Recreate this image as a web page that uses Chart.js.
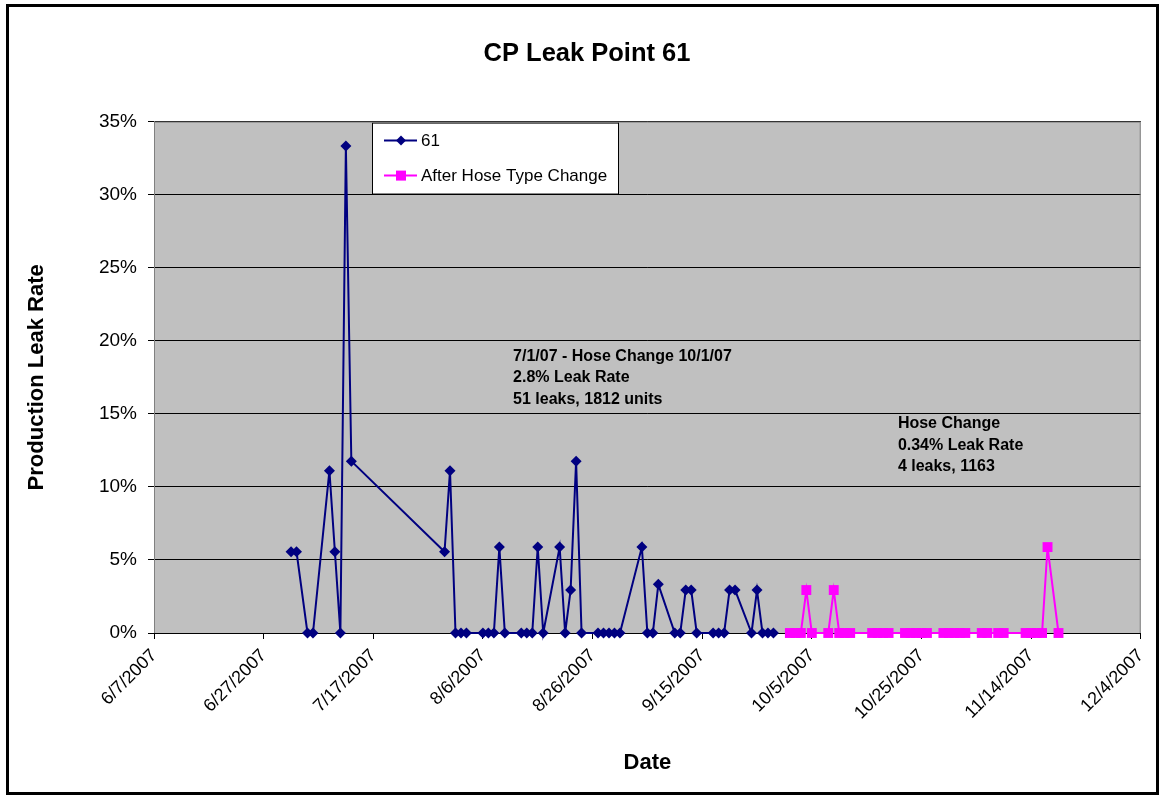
<!DOCTYPE html>
<html>
<head>
<meta charset="utf-8">
<title>CP Leak Point 61</title>
<script src="https://cdn.jsdelivr.net/npm/chart.js@4.4.1/dist/chart.umd.min.js"></script>
<style>
  html, body { margin: 0; padding: 0; background: #fff; }
  canvas { display: block; }
</style>
</head>
<body>
<canvas id="leak-chart" width="1162" height="795"></canvas>
<script>
// Values (rates in percent)
const startDate = '6/7/2007';
const axisDays = 180;
const tickStepDays = 20;
const rateMax = 35;
const rateStep = 5;

const point61Dates = ['7/2/2007', '7/3/2007', '7/5/2007', '7/6/2007', '7/9/2007', '7/10/2007', '7/11/2007', '7/12/2007', '7/13/2007',
    '7/30/2007', '7/31/2007', '8/1/2007', '8/2/2007', '8/3/2007',
    '8/6/2007', '8/7/2007', '8/8/2007', '8/9/2007', '8/10/2007',
    '8/13/2007', '8/14/2007', '8/15/2007', '8/16/2007', '8/17/2007',
    '8/20/2007', '8/21/2007', '8/22/2007', '8/23/2007', '8/24/2007',
    '8/27/2007', '8/28/2007', '8/29/2007', '8/30/2007', '8/31/2007',
    '9/4/2007', '9/5/2007', '9/6/2007', '9/7/2007',
    '9/10/2007', '9/11/2007', '9/12/2007', '9/13/2007', '9/14/2007',
    '9/17/2007', '9/18/2007', '9/19/2007', '9/20/2007', '9/21/2007',
    '9/24/2007', '9/25/2007', '9/26/2007', '9/27/2007', '9/28/2007'];
const point61Rates = [5.56, 5.56, 0, 0, 11.11, 5.56, 0, 33.33, 11.76,
    5.56, 11.11, 0, 0, 0,
    0, 0, 0, 5.88, 0,
    0, 0, 0, 5.88, 0,
    5.88, 0, 2.94, 11.76, 0,
    0, 0, 0, 0, 0,
    5.88, 0, 0, 3.33,
    0, 0, 2.94, 2.94, 0,
    0, 0, 0, 2.94, 2.94,
    0, 2.94, 0, 0, 0];

const afterChangeDates = ['10/1/2007', '10/2/2007', '10/3/2007', '10/4/2007', '10/5/2007',
    '10/8/2007', '10/9/2007', '10/10/2007', '10/11/2007', '10/12/2007',
    '10/16/2007', '10/17/2007', '10/18/2007', '10/19/2007',
    '10/22/2007', '10/23/2007', '10/24/2007', '10/25/2007', '10/26/2007',
    '10/29/2007', '10/30/2007', '10/31/2007', '11/1/2007', '11/2/2007',
    '11/5/2007', '11/6/2007', '11/8/2007', '11/9/2007',
    '11/13/2007', '11/14/2007', '11/15/2007', '11/16/2007', '11/17/2007', '11/19/2007'];
const afterChangeRates = [0, 0, 0, 2.94, 0,
    0, 2.94, 0, 0, 0,
    0, 0, 0, 0,
    0, 0, 0, 0, 0,
    0, 0, 0, 0, 0,
    0, 0, 0, 0,
    0, 0, 0, 0, 5.88, 0];

const noteBeforeLines = ['7/1/07 - Hose Change 10/1/07', '2.8% Leak Rate', '51 leaks, 1812 units'];
const noteAfterLines = ['Hose Change', '0.34% Leak Rate', '4 leaks, 1163'];

// where the notes sit, in axis units (day offset, rate)
const noteBeforeAnchor = { day: 65.5, rate: 18.95 };
const noteAfterAnchor = { day: 135.7, rate: 14.3 };

const FONT = 'Arial, "Liberation Sans", sans-serif';
const DAY_MS = 86400000;

function parseDate(str) {
    const [m, d, y] = str.split('/').map(Number);
    return Date.UTC(y, m - 1, d);
}

const startMs = parseDate(startDate);

function dayOffset(str) {
    return (parseDate(str) - startMs) / DAY_MS;
}

function dayLabel(day) {
    const dt = new Date(startMs + day * DAY_MS);
    return (dt.getUTCMonth() + 1) + '/' + dt.getUTCDate() + '/' + dt.getUTCFullYear();
}

function toPoints(dates, rates) {
    return dates.map((d, i) => ({ x: dayOffset(d), y: rates[i] }));
}

// gray plot area and its frame
const plotAreaPlugin = {
    id: 'plotArea',
    beforeDraw(chart) {
        const { ctx, chartArea: a } = chart;
        ctx.save();
        ctx.fillStyle = '#C0C0C0';
        ctx.fillRect(a.left, a.top, a.right - a.left, a.bottom - a.top);
        ctx.restore();
    },
    beforeDatasetsDraw(chart) {
        const { ctx, chartArea: a } = chart;
        ctx.save();
        ctx.lineWidth = 1;
        ctx.strokeStyle = '#808080';
        ctx.beginPath();
        ctx.moveTo(a.left + 0.5, a.bottom);
        ctx.lineTo(a.left + 0.5, a.top + 0.5);
        ctx.lineTo(a.right - 0.5, a.top + 0.5);
        ctx.lineTo(a.right - 0.5, a.bottom);
        ctx.stroke();
        ctx.strokeStyle = '#000';
        ctx.beginPath();
        ctx.moveTo(a.left, a.bottom + 0.5);
        ctx.lineTo(a.right, a.bottom + 0.5);
        ctx.stroke();
        ctx.restore();
    }
};

// text notes, legend box and outer frame
const overlayPlugin = {
    id: 'overlay',
    afterDraw(chart) {
        const { ctx, chartArea: a, scales } = chart;
        ctx.save();

        ctx.fillStyle = '#000';
        ctx.font = 'bold 16px ' + FONT;
        ctx.textBaseline = 'middle';
        ctx.textAlign = 'left';
        const drawNote = (lines, anchor) => {
            const x = scales.x.getPixelForValue(anchor.day);
            const y = scales.y.getPixelForValue(anchor.rate);
            lines.forEach((line, i) => ctx.fillText(line, x, y + i * 21.5));
        };
        drawNote(noteBeforeLines, noteBeforeAnchor);
        drawNote(noteAfterLines, noteAfterAnchor);

        // legend
        const lx = a.left + 218, ly = a.top + 1, lw = 246, lh = 71;
        ctx.fillStyle = '#fff';
        ctx.fillRect(lx, ly, lw, lh);
        ctx.strokeStyle = '#000';
        ctx.lineWidth = 1;
        ctx.strokeRect(lx + 0.5, ly + 0.5, lw, lh);
        ctx.font = '17px ' + FONT;
        chart.data.datasets.forEach((ds, i) => {
            const y = ly + 18 + i * 35;
            ctx.strokeStyle = ds.borderColor;
            ctx.lineWidth = 2;
            ctx.beginPath();
            ctx.moveTo(lx + 12, y);
            ctx.lineTo(lx + 45, y);
            ctx.stroke();
            ctx.fillStyle = ds.borderColor;
            const cx = lx + 29;
            if (ds.pointStyle === 'rectRot') {
                ctx.beginPath();
                ctx.moveTo(cx, y - 5);
                ctx.lineTo(cx + 5, y);
                ctx.lineTo(cx, y + 5);
                ctx.lineTo(cx - 5, y);
                ctx.closePath();
                ctx.fill();
            } else {
                ctx.fillRect(cx - 5, y - 5, 10, 10);
            }
            ctx.fillStyle = '#000';
            ctx.fillText(ds.label, lx + 49, y + 1);
        });

        // outer frame
        ctx.strokeStyle = '#000';
        ctx.lineWidth = 3;
        ctx.strokeRect(7.5, 5.5, 1150, 788);
        ctx.restore();
    }
};

const ctx = document.getElementById('leak-chart').getContext('2d');

const leakChart = new Chart(ctx, {
    type: 'line',
    data: {
        datasets: [
            {
                label: '61',
                data: toPoints(point61Dates, point61Rates),
                borderColor: '#000080',
                backgroundColor: '#000080',
                borderWidth: 2,
                pointStyle: 'rectRot',
                pointRadius: 5.5,
                pointBorderWidth: 0,
                tension: 0,
                clip: false
            },
            {
                label: 'After Hose Type Change',
                data: toPoints(afterChangeDates, afterChangeRates),
                borderColor: '#FF00FF',
                backgroundColor: '#FF00FF',
                borderWidth: 2,
                pointStyle: 'rect',
                pointRadius: 7,
                pointBorderWidth: 0,
                tension: 0,
                clip: false
            }
        ]
    },
    options: {
        responsive: false,
        animation: false,
        events: [],
        layout: { padding: { left: 33, right: 21, top: 0, bottom: 10 } },
        plugins: {
            legend: { display: false },
            tooltip: { enabled: false },
            title: {
                display: true,
                text: 'CP Leak Point 61',
                color: '#000',
                font: { family: FONT, size: 25.5, weight: 'bold' },
                padding: { top: 39, bottom: 52 }
            }
        },
        scales: {
            x: {
                type: 'linear',
                min: 0,
                max: axisDays,
                afterFit: (scale) => { scale.height = 152; },
                ticks: {
                    stepSize: tickStepDays,
                    autoSkip: false,
                    minRotation: 45,
                    maxRotation: 45,
                    padding: 6,
                    color: '#000',
                    font: { family: FONT, size: 18 },
                    callback: (value) => dayLabel(value)
                },
                grid: { drawOnChartArea: false, color: '#000', tickLength: 6 },
                border: { color: '#000' },
                title: {
                    display: true,
                    text: 'Date',
                    color: '#000',
                    font: { family: FONT, size: 22, weight: 'bold' },
                    padding: { top: 0, bottom: 9 }
                }
            },
            y: {
                min: 0,
                max: rateMax,
                afterFit: (scale) => { scale.width = 121; },
                ticks: {
                    stepSize: rateStep,
                    padding: 11,
                    color: '#000',
                    font: { family: FONT, size: 19 },
                    callback: (value) => value + '%'
                },
                grid: { color: '#000', tickLength: 6 },
                border: { color: '#808080' },
                title: {
                    display: true,
                    text: 'Production Leak Rate',
                    color: '#000',
                    font: { family: FONT, size: 22, weight: 'bold' },
                    padding: { top: -9, bottom: 0 }
                }
            }
        }
    },
    plugins: [plotAreaPlugin, overlayPlugin]
});
</script>
</body>
</html>
